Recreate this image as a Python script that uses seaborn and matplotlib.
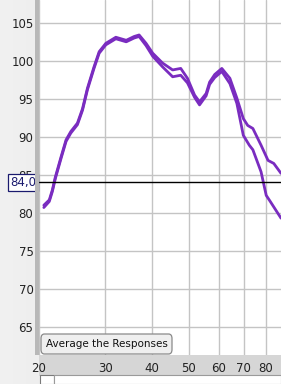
import numpy as np
import pandas as pd
import matplotlib
matplotlib.use("Agg")
import matplotlib.pyplot as plt
import seaborn as sns
from matplotlib.patches import FancyBboxPatch, Rectangle

# ---- data ----
freq_a = [20.6, 21.3, 21.7, 22.1, 22.9, 23.6, 24.3, 25.3, 26.1, 26.9, 28.0, 28.9, 30.1, 32.0,
          34.1, 35.8, 36.9, 38.5, 40.1, 42.6, 45.3, 47.6, 49.6, 51.8, 53.4, 55.6, 56.8,
          58.6, 61.2, 64.3, 67.1, 69.8, 71.7, 74.0, 77.8, 81.2, 84.1, 87.9]
spl_a = [81.0, 81.7, 83.0, 84.7, 87.4, 89.6, 90.7, 91.8, 93.7, 96.4, 99.2, 101.2, 102.3, 103.1,
         102.7, 103.2, 103.4, 102.3, 101.0, 99.7, 98.8, 99.0, 97.7, 95.5, 94.6, 95.7, 97.2,
         98.2, 99.0, 97.7, 95.1, 92.4, 91.5, 91.1, 88.9, 86.9, 86.5, 85.2]
freq_b = [20.6, 21.3, 21.7, 22.1, 22.9, 23.6, 24.3, 25.3, 26.1, 26.9, 28.0, 28.9, 30.1, 32.0,
          34.1, 35.8, 36.9, 38.5, 40.1, 42.6, 45.3, 47.6, 49.6, 51.8, 53.4, 55.6, 56.8,
          58.6, 61.2, 64.3, 67.1, 69.8, 72.4, 74.0, 77.8, 80.3, 82.3, 87.9]
spl_b = [80.7, 81.5, 82.8, 84.5, 87.2, 89.4, 90.5, 91.6, 93.5, 96.2, 99.0, 101.0, 102.1, 102.9,
         102.5, 103.0, 103.2, 102.0, 100.6, 99.2, 97.9, 98.1, 97.1, 95.2, 94.2, 95.4, 96.9,
         97.8, 98.6, 97.0, 94.4, 90.2, 88.9, 88.3, 85.4, 82.3, 81.5, 79.3]
x_ticks = [20, 30, 40, 50, 60, 70, 80]
y_ticks = [65, 70, 75, 80, 85, 90, 95, 100, 105]
ref_level = 84.0
button_text = "Average the Responses"

df = pd.concat([
    pd.DataFrame({"freq": freq_a, "spl": spl_a, "meas": "A"}),
    pd.DataFrame({"freq": freq_b, "spl": spl_b, "meas": "B"}),
])

sns.set_theme(style="white")
plt.rcParams["font.family"] = ["DejaVu Sans"]

W, H = 281, 384
fig = plt.figure(figsize=(W / 100, H / 100), dpi=100, facecolor="#e6e6e6")
# left gray gradient panel
grad_ax = fig.add_axes([0, 0, 1, 1], zorder=-5)
grad_ax.imshow(np.linspace(0.94, 0.87, 64)[None, :], cmap="gray", vmin=0, vmax=1,
               aspect="auto", extent=[0, 1, 0, 1])
grad_ax.axis("off")

# bottom tick band
fig.patches.append(Rectangle((39 / W, (H - 376) / H), 1 - 39 / W, 21 / H,
                             transform=fig.transFigure, facecolor="#d6d6d6",
                             edgecolor="none", zorder=-1))
fig.patches.append(Rectangle((40 / W, 0), 14 / W, 9 / H, transform=fig.transFigure,
                             facecolor="white", edgecolor="#7a7a7a", lw=0.8, zorder=1))
fig.patches.append(Rectangle((54 / W, 0), 1 - 54 / W, 9 / H, transform=fig.transFigure,
                             facecolor="white", edgecolor="#9a9a9a", lw=0.8, zorder=1))
# vertical shading bar next to the plot
fig.patches.append(Rectangle((35 / W, (H - 355) / H), 4 / W, 355 / H,
                             transform=fig.transFigure, facecolor="#b8b8b8",
                             edgecolor="none", zorder=0))

ax = fig.add_axes([39 / W, (H - 355) / H, 1 - 39 / W, 355 / H])
ax.set_facecolor("white")
ax.set_xscale("log")
ax.set_xlim(20, 87.9)
ax.set_ylim(61.3, 108.0)

for x in x_ticks:
    ax.axvline(x, color="#c4c4c4", lw=1.0, zorder=0)
for y in y_ticks:
    ax.axhline(y, color="#c4c4c4", lw=1.0, zorder=0)

sns.lineplot(data=df, x="freq", y="spl", hue="meas", palette=["#7a2cc0", "#7a2cc0"],
             legend=False, ax=ax, lw=2.0, zorder=3, estimator=None, sort=True)
for line in ax.get_lines()[-2:]:
    line.set_solid_capstyle("round")
    line.set_solid_joinstyle("round")

ax.axhline(ref_level, color="black", lw=1.0, zorder=4)

ax.set_xticks(x_ticks)
ax.set_xticklabels([str(v) for v in x_ticks])
ax.set_yticks(y_ticks)
ax.set_yticklabels([str(v) for v in y_ticks])
ax.xaxis.set_minor_locator(matplotlib.ticker.NullLocator())
ax.tick_params(axis="both", length=0, labelsize=8.5, colors="#222222")
ax.tick_params(axis="y", pad=4)
ax.tick_params(axis="x", pad=5)
ax.set_xlabel("")
ax.set_ylabel("")
for s in ax.spines.values():
    s.set_visible(False)

# reference level box
ax.annotate("84,0", xy=(0, ref_level), xycoords=("axes fraction", "data"),
            xytext=(-2, 0), textcoords="offset points", ha="right", va="center",
            fontsize=8.5, color="#1a1a6e", zorder=6, annotation_clip=False,
            bbox=dict(boxstyle="square,pad=0.15", fc="white", ec="#1a1a6e", lw=0.9))

# button
bx0, by0, bw, bh = 41, 334, 131, 20
fig.patches.append(FancyBboxPatch((bx0 / W, (H - by0 - bh) / H), bw / W, bh / H,
                                  boxstyle="round,pad=0,rounding_size=0.012",
                                  transform=fig.transFigure, facecolor="#efefef",
                                  edgecolor="#8a8a8a", lw=0.9, zorder=5))
fig.text((bx0 + bw / 2) / W, (H - by0 - bh / 2) / H, button_text, ha="center",
         va="center", fontsize=7.5, color="#111111", zorder=6)

fig.savefig("out.png", dpi=100, facecolor=fig.get_facecolor())
